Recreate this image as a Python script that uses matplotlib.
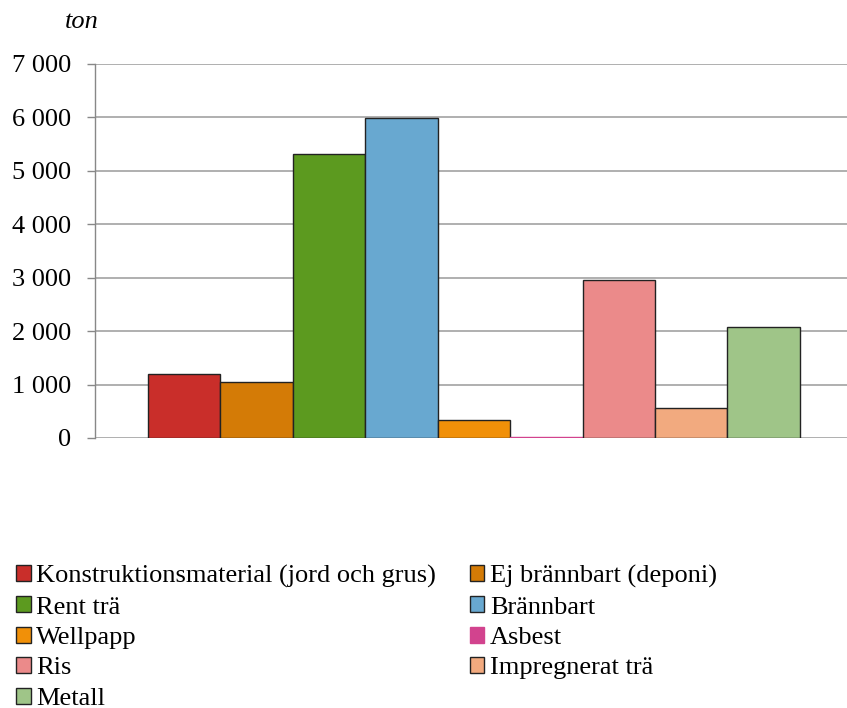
import matplotlib.pyplot as plt
from matplotlib.patches import Patch
from matplotlib.ticker import FuncFormatter

categories = [
    "Konstruktionsmaterial (jord och grus)",
    "Ej brännbart (deponi)",
    "Rent trä",
    "Brännbart",
    "Wellpapp",
    "Asbest",
    "Ris",
    "Impregnerat trä",
    "Metall",
]
values = [1200, 1050, 5310, 5990, 340, 25, 2950, 570, 2085]
colors = [
    "#C92E2A", "#D47B06", "#5C9A1F", "#68A8D0", "#F19008",
    "#D2438E", "#EB8A8A", "#F2AA7F", "#9FC588",
]
yticks = [0, 1000, 2000, 3000, 4000, 5000, 6000, 7000]

plt.rcParams["font.family"] = ["Liberation Serif", "DejaVu Serif"]

fig = plt.figure(figsize=(8.47, 7.08), dpi=100)
ax = fig.add_axes([95 / 847, 1 - 438 / 708, 1 - 95 / 847, (438 - 64) / 708])

n = len(values)
xs = [i - (n - 1) / 2 for i in range(n)]
for i, (x, v, c) in enumerate(zip(xs, values, colors)):
    ec = c if categories[i] == "Asbest" else "#222222"
    ax.bar(x, v, width=1.0, color=c, edgecolor=ec, linewidth=1.0, zorder=3)

ax.set_xlim(-5.23, 5.15)
ax.set_ylim(0, 7000)
ax.set_yticks(yticks)
ax.yaxis.set_major_formatter(FuncFormatter(lambda v, p: f"{int(v):,}".replace(",", " ")))
ax.set_xticks([])
ax.grid(axis="y", color="#9a9a9a", linewidth=1.1, zorder=0)
for s in ["top", "right", "bottom"]:
    ax.spines[s].set_visible(False)
ax.spines["left"].set_color("#888888")
ax.spines["left"].set_linewidth(1.0)
ax.tick_params(axis="y", length=6, color="#888888", width=1.0, pad=11, labelsize=19)

fig.text(65 / 847, 1 - 22 / 708, "ton", fontsize=19, style="italic", va="center", ha="left")

# legend laid out row-wise in two columns
handles = []
for i, c in enumerate(colors):
    ec = c if categories[i] == "Asbest" else "#222222"
    handles.append(Patch(facecolor=c, edgecolor=ec, linewidth=1.0, label=categories[i]))
order = [0, 2, 4, 6, 8, 1, 3, 5, 7]
fig.legend(
    [handles[i] for i in order],
    [categories[i] for i in order],
    ncol=2,
    loc="upper left",
    bbox_to_anchor=(16 / 847, 1 - 565 / 708),
    frameon=False,
    fontsize=19,
    handlelength=0.55,
    handleheight=0.55,
    handletextpad=0.2,
    labelspacing=0.31,
    columnspacing=1.3,
    borderpad=0,
    borderaxespad=0,
)

fig.savefig("out.png", dpi=100, facecolor="white")
